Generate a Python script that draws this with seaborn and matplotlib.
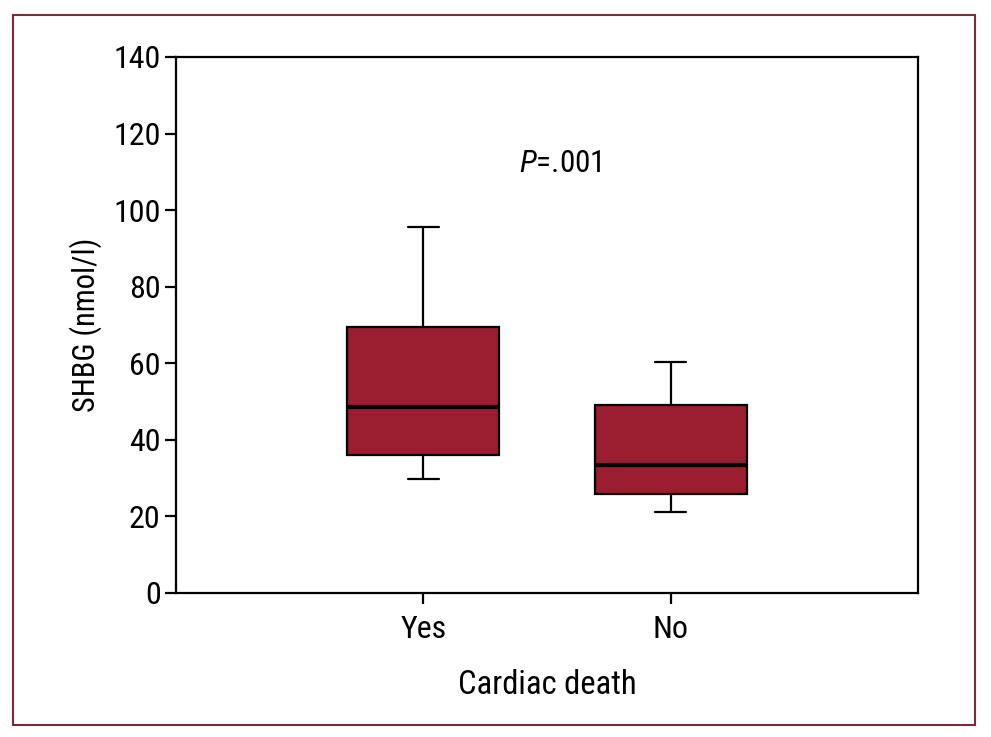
import numpy as np
import pandas as pd
import seaborn as sns
import matplotlib.pyplot as plt
from matplotlib.patches import Rectangle

# five-number summaries: min, Q1, median, Q3, max
groups = ["Yes", "No"]
yes_vals = [29.9, 36.0, 48.7, 69.5, 95.7]
no_vals = [21.2, 25.9, 33.4, 49.2, 60.3]

df = pd.DataFrame({
    "group": ["Yes"] * len(yes_vals) + ["No"] * len(no_vals),
    "shbg": yes_vals + no_vals,
})

sns.set_style("ticks")
plt.rcParams["font.family"] = ["Roboto Condensed", "Archivo Narrow", "DejaVu Sans"]
plt.rcParams["mathtext.fontset"] = "custom"
plt.rcParams["mathtext.rm"] = "Roboto Condensed"
plt.rcParams["mathtext.it"] = "Roboto Condensed:italic"
plt.rcParams["text.color"] = "black"
plt.rcParams["axes.labelcolor"] = "black"

fig = plt.figure(figsize=(9.91, 7.37), dpi=100)
ax = fig.add_axes([0.1776, 0.1954, 0.9263 - 0.1776, 0.9227 - 0.1954])

sns.boxplot(
    data=df, x="group", y="shbg", order=groups, ax=ax,
    color="#9B1D30", saturation=1, width=0.615, whis=(0, 100),
    linecolor="black", linewidth=1.6,
    medianprops={"linewidth": 3, "color": "black"},
    capwidths=0.125,
)

ax.set_xlim(-1, 2)
ax.set_ylim(0, 140)
ax.set_yticks(range(0, 141, 20))
for s in ax.spines.values():
    s.set_visible(True)
    s.set_linewidth(1.6)
    s.set_color("black")
ax.tick_params(axis="both", direction="out", length=8, width=1.6,
               labelsize=23, colors="black", pad=3)
ax.tick_params(axis="x", pad=8)
ax.set_xlabel("Cardiac death", fontsize=23.5, labelpad=18)
ax.set_ylabel("SHBG (nmol/l)", fontsize=22, labelpad=8)

ax.text(0.553, 112.3, r"$\mathit{P}$=.001", fontsize=22.5, ha="center", va="center")

# outer frame
fig.patches.append(Rectangle((13 / 991, 1 - 725 / 737), (975 - 13) / 991, (725 - 15) / 737,
                             transform=fig.transFigure, fill=False,
                             edgecolor="#7A2A3A", linewidth=1.5))

fig.savefig("out.png", dpi=100)
